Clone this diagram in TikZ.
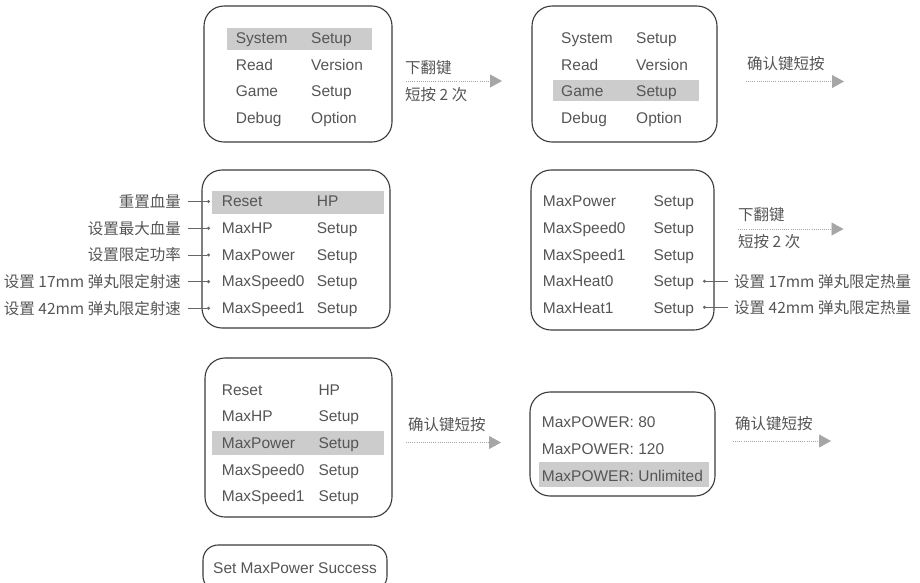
\documentclass[tikz,border=0pt]{standalone}
\usepackage{fontspec}
\setmainfont{Liberation Sans}
\newfontfamily\cjk{Noto Sans CJK SC}
\usetikzlibrary{arrows.meta}
\definecolor{txtc}{HTML}{555555}
\definecolor{boxc}{HTML}{3A3A3A}
\definecolor{hlc}{HTML}{CCCCCC}
\definecolor{flowc}{HTML}{A6A6A6}
\definecolor{ptrc}{HTML}{666666}
\tikzset{
  panel/.style={draw=boxc, line width=1.1pt, rounded corners=20pt, inner sep=0pt},
  hl/.style={fill=hlc, draw=none},
  item/.style={font=\fontsize{15.5}{18}\selectfont, text=txtc, inner sep=0pt, anchor=base west},
  note/.style={font=\cjk\fontsize{15.5}{18}\selectfont, text=txtc, inner sep=0pt},
  flow/.style={draw=flowc, line width=0.9pt, dash pattern=on 1pt off 1.1pt,
    -{Triangle[length=12pt,width=13pt]}},
  pointer/.style={draw=ptrc, line width=0.7pt, -{Circle[length=3pt]}},
}
\begin{document}
\begin{tikzpicture}[x=1pt,y=-1pt]
\useasboundingbox (0,0) rectangle (920,582);
\clip (0,0) rectangle (920,582);

% ---------- panel 1: main menu, System Setup selected ----------
\node[panel, minimum width=188pt, minimum height=136pt] (b1) at (298,74) {};
\fill[hl] (227,28) rectangle (372,50);
\node[item] (b1a1) at (235.7,43.5) {System};
\node[item] (b1b1) at (311,43.5) {Setup};
\node[item] (b1a2) at (235.7,70) {Read};
\node[item] (b1b2) at (311,70) {Version};
\node[item] (b1a3) at (235.7,96.5) {Game};
\node[item] (b1b3) at (311,96.5) {Setup};
\node[item] (b1a4) at (235.7,123) {Debug};
\node[item] (b1b4) at (311,123) {Option};

\node[note, anchor=west] (t1a) at (405,68) {下翻键};
\node[note, anchor=west] (t1b) at (405,95) {短按 2 次};
\coordinate (f1s) at (406,81);
\coordinate (f1e) at (502,81);
\draw[flow] (f1s) -- (f1e);

% ---------- panel 2: main menu, Game Setup selected ----------
\node[panel, minimum width=185pt, minimum height=136pt] (b2) at (624.5,74) {};
\fill[hl] (553,80) rectangle (699,101);
\node[item] (b2a1) at (561,43.5) {System};
\node[item] (b2b1) at (636,43.5) {Setup};
\node[item] (b2a2) at (561,70) {Read};
\node[item] (b2b2) at (636,70) {Version};
\node[item] (b2a3) at (561,96.5) {Game};
\node[item] (b2b3) at (636,96.5) {Setup};
\node[item] (b2a4) at (561,123) {Debug};
\node[item] (b2b4) at (636,123) {Option};

\node[note, anchor=west] (t2a) at (747,64) {确认键短按};
\coordinate (f2s) at (746,81.5);
\coordinate (f2e) at (844,81.5);
\draw[flow] (f2s) -- (f2e);

% ---------- panel 3: game setup list, first page ----------
\node[panel, minimum width=188pt, minimum height=158pt] (b3) at (296,249) {};
\fill[hl] (212,191) rectangle (384,214);
\node[item] (b3a1) at (221.7,206.7) {Reset};
\node[item] (b3b1) at (316.7,206.7) {HP};
\node[item] (b3a2) at (221.7,233.4) {MaxHP};
\node[item] (b3b2) at (316.7,233.4) {Setup};
\node[item] (b3a3) at (221.7,260.1) {MaxPower};
\node[item] (b3b3) at (316.7,260.1) {Setup};
\node[item] (b3a4) at (221.7,286.8) {MaxSpeed0};
\node[item] (b3b4) at (316.7,286.8) {Setup};
\node[item] (b3a5) at (221.7,313.5) {MaxSpeed1};
\node[item] (b3b5) at (316.7,313.5) {Setup};

\node[note, anchor=east] (l1) at (181,201.5) {重置血量};
\node[note, anchor=east] (l2) at (181,228.2) {设置最大血量};
\node[note, anchor=east] (l3) at (181,254.9) {设置限定功率};
\node[note, anchor=east] (l4) at (181,281.6) {设置 17mm 弹丸限定射速};
\node[note, anchor=east] (l5) at (181,308.3) {设置 42mm 弹丸限定射速};
\foreach \i/\y in {1/201.5,2/228.2,3/254.9,4/281.6,5/308.3}{
  \coordinate (p\i) at (210,\y);
  \draw[pointer, shorten <=7pt] (l\i.east) -- (p\i);
}

% ---------- panel 4: game setup list, second page ----------
\node[panel, minimum width=183pt, minimum height=160pt] (b4) at (622.5,250) {};
\node[item] (b4a1) at (542.7,206.7) {MaxPower};
\node[item] (b4b1) at (653.3,206.7) {Setup};
\node[item] (b4a2) at (542.7,233.4) {MaxSpeed0};
\node[item] (b4b2) at (653.3,233.4) {Setup};
\node[item] (b4a3) at (542.7,260.1) {MaxSpeed1};
\node[item] (b4b3) at (653.3,260.1) {Setup};
\node[item] (b4a4) at (542.7,286.8) {MaxHeat0};
\node[item] (b4b4) at (653.3,286.8) {Setup};
\node[item] (b4a5) at (542.7,313.5) {MaxHeat1};
\node[item] (b4b5) at (653.3,313.5) {Setup};

\node[note, anchor=west] (t3a) at (738,215) {下翻键};
\node[note, anchor=west] (t3b) at (738,241.5) {短按 2 次};
\coordinate (f3s) at (738,229);
\coordinate (f3e) at (843.5,229);
\draw[flow] (f3s) -- (f3e);

\node[note, anchor=west] (r1) at (734,281.3) {设置 17mm 弹丸限定热量};
\node[note, anchor=west] (r2) at (734,307.3) {设置 42mm 弹丸限定热量};
\coordinate (q1) at (703,281.3);
\coordinate (q2) at (703,307.3);
\draw[pointer, shorten <=6pt] (r1.west) -- (q1);
\draw[pointer, shorten <=6pt] (r2.west) -- (q2);

% ---------- panel 5: game setup list, MaxPower selected ----------
\node[panel, minimum width=187pt, minimum height=159pt] (b5) at (298.5,437.5) {};
\fill[hl] (212,431) rectangle (384,455);
\node[item] (b5a1) at (221.7,395) {Reset};
\node[item] (b5b1) at (318.3,395) {HP};
\node[item] (b5a2) at (221.7,421.7) {MaxHP};
\node[item] (b5b2) at (318.3,421.7) {Setup};
\node[item] (b5a3) at (221.7,448.4) {MaxPower};
\node[item] (b5b3) at (318.3,448.4) {Setup};
\node[item] (b5a4) at (221.7,475.1) {MaxSpeed0};
\node[item] (b5b4) at (318.3,475.1) {Setup};
\node[item] (b5a5) at (221.7,501.8) {MaxSpeed1};
\node[item] (b5b5) at (318.3,501.8) {Setup};

\node[note, anchor=west] (t4a) at (408,425) {确认键短按};
\coordinate (f4s) at (406,442.5);
\coordinate (f4e) at (501,442.5);
\draw[flow] (f4s) -- (f4e);

% ---------- panel 6: power values ----------
\node[panel, minimum width=185pt, minimum height=104pt] (b6) at (622.5,444) {};
\fill[hl] (539,462) rectangle (709,487);
\node[item] (b6a1) at (541.7,427.7) {MaxPOWER: 80};
\node[item] (b6a2) at (541.7,454.7) {MaxPOWER: 120};
\node[item] (b6a3) at (541.7,481.7) {MaxPOWER: Unlimited};

\node[note, anchor=west] (t5a) at (735,423.5) {确认键短按};
\coordinate (f5s) at (733,441);
\coordinate (f5e) at (831,441);
\draw[flow] (f5s) -- (f5e);

% ---------- result message ----------
\node[panel, rounded corners=15pt, minimum width=184pt, minimum height=46pt,
      font=\fontsize{15.5}{18}\selectfont, text=txtc] (b7) at (295,568) {Set MaxPower Success};
\end{tikzpicture}
\end{document}
